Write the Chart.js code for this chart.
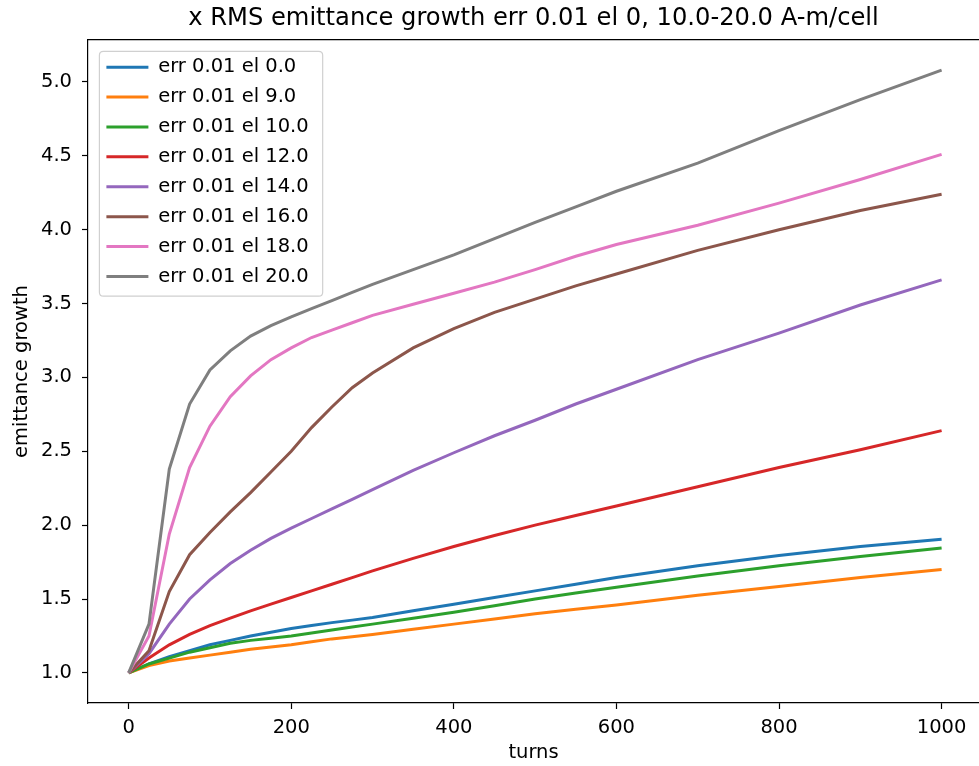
<!DOCTYPE html>
<html><head><meta charset="utf-8">
<script src="https://cdn.jsdelivr.net/npm/chart.js@4.4.0/dist/chart.umd.min.js"></script>
<style>html,body{margin:0;padding:0;background:#fff;overflow:hidden}#wrap{width:979px;height:766px;position:relative;background:#fff}</style>
</head><body><div id="wrap"><canvas id="c" width="979" height="766"></canvas></div>
<script>
// ---- data ----
const turns = [0, 25, 50, 75, 100, 125, 150, 175, 200, 225, 250, 275, 300, 350, 400, 450, 500, 550, 600, 700, 800, 900, 1000];
const el0  = [1.0, 1.06, 1.11, 1.15, 1.19, 1.22, 1.25, 1.275, 1.30, 1.32, 1.34, 1.357, 1.375, 1.42, 1.465, 1.51, 1.555, 1.60, 1.645, 1.725, 1.795, 1.855, 1.905];
const el9  = [1.0, 1.05, 1.08, 1.10, 1.12, 1.14, 1.16, 1.175, 1.19, 1.21, 1.23, 1.245, 1.26, 1.295, 1.33, 1.365, 1.40, 1.43, 1.46, 1.525, 1.585, 1.645, 1.70];
const el10 = [1.0, 1.06, 1.10, 1.14, 1.17, 1.20, 1.22, 1.235, 1.25, 1.27, 1.29, 1.31, 1.33, 1.37, 1.41, 1.455, 1.50, 1.54, 1.58, 1.655, 1.725, 1.787, 1.845];
const el12 = [1.0, 1.10, 1.19, 1.26, 1.32, 1.37, 1.42, 1.465, 1.51, 1.555, 1.60, 1.645, 1.69, 1.775, 1.855, 1.93, 2.00, 2.065, 2.13, 2.26, 2.39, 2.51, 2.64];
const el14 = [1.0, 1.13, 1.33, 1.50, 1.63, 1.74, 1.83, 1.91, 1.98, 2.045, 2.11, 2.175, 2.24, 2.37, 2.49, 2.605, 2.71, 2.82, 2.92, 3.12, 3.30, 3.49, 3.66];
const el16 = [1.0, 1.15, 1.55, 1.80, 1.95, 2.09, 2.22, 2.36, 2.50, 2.66, 2.80, 2.93, 3.03, 3.20, 3.33, 3.44, 3.53, 3.62, 3.70, 3.86, 4.00, 4.13, 4.24];
const el18 = [1.0, 1.25, 1.94, 2.39, 2.67, 2.87, 3.01, 3.12, 3.20, 3.27, 3.32, 3.37, 3.42, 3.495, 3.57, 3.645, 3.73, 3.82, 3.90, 4.03, 4.18, 4.34, 4.51];
const el20 = [1.0, 1.33, 2.38, 2.82, 3.05, 3.18, 3.28, 3.35, 3.41, 3.465, 3.52, 3.575, 3.63, 3.73, 3.83, 3.94, 4.05, 4.155, 4.26, 4.45, 4.67, 4.88, 5.08];
const seriesNames = ['err 0.01 el 0.0', 'err 0.01 el 9.0', 'err 0.01 el 10.0', 'err 0.01 el 12.0',
                     'err 0.01 el 14.0', 'err 0.01 el 16.0', 'err 0.01 el 18.0', 'err 0.01 el 20.0'];
const seriesValues = [el0, el9, el10, el12, el14, el16, el18, el20];
const xTicks = [0, 200, 400, 600, 800, 1000];
const yTicks = [1.0, 1.5, 2.0, 2.5, 3.0, 3.5, 4.0, 4.5, 5.0];
const chartTitle = 'x RMS emittance growth err 0.01 el 0, 10.0-20.0 A-m/cell';
const xLabel = 'turns';
const yLabel = 'emittance growth';

// ---- styling ----
const colors = ['#1f77b4', '#ff7f0e', '#2ca02c', '#d62728', '#9467bd', '#8c564b', '#e377c2', '#7f7f7f'];
const FONT = 'DejaVu Sans';
const tickFont = {family: FONT, size: 19.5};
const legendFontSize = 19.5;

const datasets = seriesValues.map((vals, i) => ({
  label: seriesNames[i],
  data: turns.map((t, j) => ({x: t, y: vals[j]})),
  borderColor: colors[i],
  backgroundColor: colors[i],
  borderWidth: 3,
  pointRadius: 0,
  pointHoverRadius: 0,
  tension: 0,
  fill: false,
  order: seriesValues.length - 1 - i
}));

const legendFrame = {
  id: 'legendFrame',
  afterLayout(chart) {
    const L = chart.legend;
    const a = chart.chartArea;
    L.left = a.left + 8;
    L.top = a.top + 7;
    L.bottom = a.bottom;
  },
  beforeDraw(chart) {
    const L = chart.legend;
    const ctx = chart.ctx;
    const pad = L.options.labels.padding;
    const bw = L.options.labels.pointStyleWidth;
    ctx.save();
    ctx.font = legendFontSize + 'px "' + FONT + '"';
    let maxW = 0;
    L.legendItems.forEach(it => { maxW = Math.max(maxW, ctx.measureText(it.text).width); });
    const x0 = L.left + pad, y0 = L.top + pad;
    const n = L.legendItems.length;
    const bx = x0 - 7, by = y0 - 6;
    const w = bw + legendFontSize / 2 + maxW + 21;
    const h = n * (legendFontSize + pad) - pad + 16;
    const r = 4;
    ctx.beginPath();
    ctx.moveTo(bx + r, by);
    ctx.lineTo(bx + w - r, by); ctx.quadraticCurveTo(bx + w, by, bx + w, by + r);
    ctx.lineTo(bx + w, by + h - r); ctx.quadraticCurveTo(bx + w, by + h, bx + w - r, by + h);
    ctx.lineTo(bx + r, by + h); ctx.quadraticCurveTo(bx, by + h, bx, by + h - r);
    ctx.lineTo(bx, by + r); ctx.quadraticCurveTo(bx, by, bx + r, by);
    ctx.closePath();
    ctx.fillStyle = 'rgba(255,255,255,0.8)';
    ctx.fill();
    ctx.strokeStyle = '#d0d0d0';
    ctx.lineWidth = 1.2;
    ctx.stroke();
    ctx.restore();
  }
};

new Chart(document.getElementById('c'), {
  type: 'line',
  data: {datasets},
  plugins: [legendFrame],
  options: {
    responsive: false,
    animation: false,
    devicePixelRatio: 1,
    layout: {padding: 0},
    plugins: {
      tooltip: {enabled: false},
      title: {
        display: true,
        text: chartTitle,
        fullSize: false,
        color: '#000',
        font: {family: FONT, size: 24.2, weight: 'normal', lineHeight: 1.2},
        padding: {top: 4.6, bottom: 6.36}
      },
      legend: {
        position: 'chartArea',
        align: 'start',
        labels: {
          color: '#000',
          font: {family: FONT, size: legendFontSize},
          usePointStyle: true,
          pointStyle: 'line',
          pointStyleWidth: 42,
          padding: 10.4,
          sort: (a, b) => a.datasetIndex - b.datasetIndex
        }
      }
    },
    scales: {
      x: {
        type: 'linear',
        position: 'bottom',
        min: -50,
        max: 1046,
        afterBuildTicks: s => { s.ticks = xTicks.map(v => ({value: v})); },
        afterFit: s => { s.height = 63; },
        grid: {display: true, drawOnChartArea: false, drawTicks: true, tickLength: 6, tickColor: '#000', tickWidth: 1.2},
        border: {display: true, color: '#000', width: 1.2},
        ticks: {color: '#000', font: tickFont, padding: 7, maxRotation: 0, autoSkip: false,
                callback: v => String(v)},
        title: {display: true, text: xLabel, color: '#000', font: {family: FONT, size: 19.5},
                padding: {top: 0, bottom: 1.5}}
      },
      x2: {
        type: 'linear',
        position: 'top',
        min: -50,
        max: 1046,
        afterFit: s => { s.height = 0; },
        grid: {display: false, drawTicks: false},
        ticks: {display: false},
        border: {display: true, color: '#000', width: 1.2}
      },
      y: {
        type: 'linear',
        position: 'left',
        min: 0.796,
        max: 5.284,
        afterBuildTicks: s => { s.ticks = yTicks.map(v => ({value: v})); },
        afterFit: s => { s.width = 88; },
        grid: {display: true, drawOnChartArea: false, drawTicks: true, tickLength: 6, tickColor: '#000', tickWidth: 1.2},
        border: {display: true, color: '#000', width: 1.2},
        ticks: {color: '#000', font: tickFont, padding: 10, autoSkip: false,
                callback: v => Number(v).toFixed(1)},
        title: {display: true, text: yLabel, color: '#000', font: {family: FONT, size: 19.5},
                padding: {top: 10.3, bottom: 0}}
      }
    }
  }
});
</script>
</body></html>
